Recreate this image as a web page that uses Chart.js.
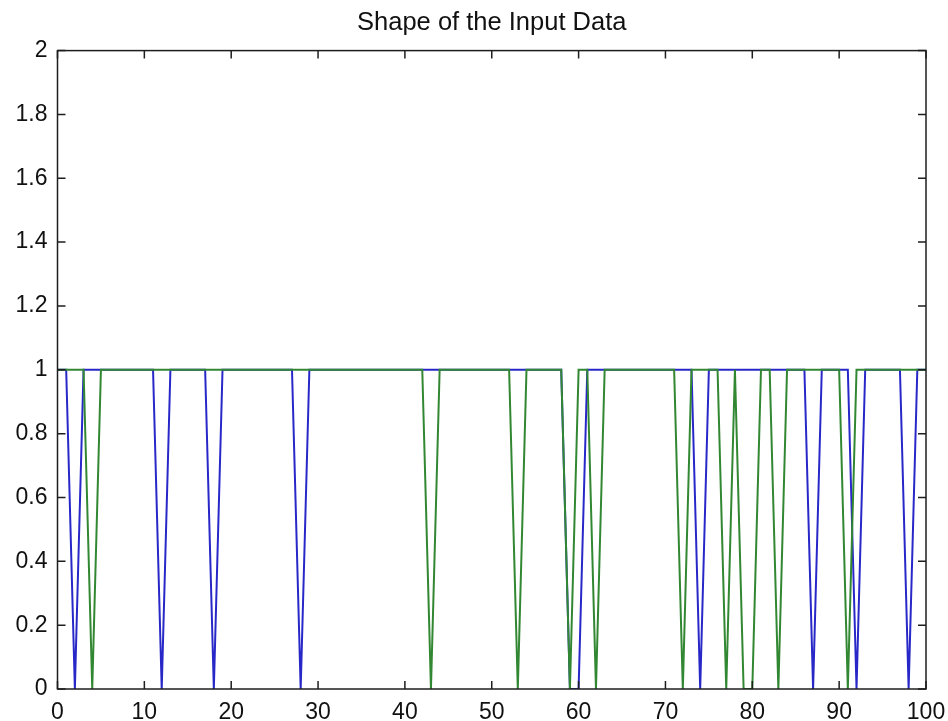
<!DOCTYPE html>
<html>
<head>
<meta charset="utf-8">
<title>Shape of the Input Data</title>
<script src="https://cdn.jsdelivr.net/npm/chart.js@4.4.0/dist/chart.umd.min.js"></script>
<style>
  html, body { margin: 0; padding: 0; background: #fff; }
  #wrap { width: 948px; height: 721px; }
</style>
</head>
<body>
<div id="wrap"><canvas id="myChart"></canvas></div>
<script>
// sample index 0..100
const xValues = [
  0, 1, 2, 3, 4, 5, 6, 7, 8, 9,
  10, 11, 12, 13, 14, 15, 16, 17, 18, 19,
  20, 21, 22, 23, 24, 25, 26, 27, 28, 29,
  30, 31, 32, 33, 34, 35, 36, 37, 38, 39,
  40, 41, 42, 43, 44, 45, 46, 47, 48, 49,
  50, 51, 52, 53, 54, 55, 56, 57, 58, 59,
  60, 61, 62, 63, 64, 65, 66, 67, 68, 69,
  70, 71, 72, 73, 74, 75, 76, 77, 78, 79,
  80, 81, 82, 83, 84, 85, 86, 87, 88, 89,
  90, 91, 92, 93, 94, 95, 96, 97, 98, 99,
  100
];

// blue line
const blueValues = [
  1, 1, 0, 1, 1, 1, 1, 1, 1, 1,
  1, 1, 0, 1, 1, 1, 1, 1, 0, 1,
  1, 1, 1, 1, 1, 1, 1, 1, 0, 1,
  1, 1, 1, 1, 1, 1, 1, 1, 1, 1,
  1, 1, 1, 1, 1, 1, 1, 1, 1, 1,
  1, 1, 1, 1, 1, 1, 1, 1, 1, 0,
  0, 1, 1, 1, 1, 1, 1, 1, 1, 1,
  1, 1, 1, 1, 0, 1, 1, 1, 1, 1,
  1, 1, 1, 1, 1, 1, 1, 0, 1, 1,
  1, 1, 0, 1, 1, 1, 1, 1, 0, 1,
  1
];

// green line
const greenValues = [
  1, 1, 1, 1, 0, 1, 1, 1, 1, 1,
  1, 1, 1, 1, 1, 1, 1, 1, 1, 1,
  1, 1, 1, 1, 1, 1, 1, 1, 1, 1,
  1, 1, 1, 1, 1, 1, 1, 1, 1, 1,
  1, 1, 1, 0, 1, 1, 1, 1, 1, 1,
  1, 1, 1, 0, 1, 1, 1, 1, 1, 0,
  1, 1, 0, 1, 1, 1, 1, 1, 1, 1,
  1, 1, 0, 1, 1, 1, 1, 0, 1, 0,
  0, 1, 1, 0, 1, 1, 1, 1, 1, 1,
  1, 0, 1, 1, 1, 1, 1, 1, 1, 1,
  1
];

const xTicks = [0, 10, 20, 30, 40, 50, 60, 70, 80, 90, 100];
const yTicks = [0, 0.2, 0.4, 0.6, 0.8, 1, 1.2, 1.4, 1.6, 1.8, 2];
const yTickLabels = ['0', '0.2', '0.4', '0.6', '0.8', '1', '1.2', '1.4', '1.6', '1.8', '2'];

const FONT = "'Liberation Sans', Arial, Helvetica, sans-serif";
const AXIS_COLOR = '#1e1e1e';

// matlab style box with inward ticks on all 4 sides
const matlabBox = {
  id: 'matlabBox',
  afterDraw(chart) {
    const ctx = chart.ctx;
    const a = chart.chartArea;
    const xs = chart.scales.x;
    const ys = chart.scales.y;
    const len = 8;
    ctx.save();
    ctx.strokeStyle = AXIS_COLOR;
    ctx.lineWidth = 1.5;
    ctx.strokeRect(a.left, a.top, a.right - a.left, a.bottom - a.top);
    ctx.beginPath();
    for (const v of xTicks) {
      const px = xs.getPixelForValue(v);
      ctx.moveTo(px, a.bottom); ctx.lineTo(px, a.bottom - len);
      ctx.moveTo(px, a.top); ctx.lineTo(px, a.top + len);
    }
    for (const v of yTicks) {
      const py = ys.getPixelForValue(v);
      ctx.moveTo(a.left, py); ctx.lineTo(a.left + len, py);
      ctx.moveTo(a.right, py); ctx.lineTo(a.right - len, py);
    }
    ctx.stroke();
    ctx.restore();
  }
};

const data = {
  labels: xValues,
  datasets: [
    {
      label: 'Series 1',
      data: blueValues,
      borderColor: 'rgb(40, 40, 200)',
      backgroundColor: 'rgb(40, 40, 200)',
      borderWidth: 2,
      pointRadius: 0,
      tension: 0,
      order: 1
    },
    {
      label: 'Series 2',
      data: greenValues,
      borderColor: 'rgb(50, 135, 50)',
      backgroundColor: 'rgb(50, 135, 50)',
      borderWidth: 2,
      pointRadius: 0,
      tension: 0,
      order: 0
    }
  ]
};

const config = {
  type: 'line',
  data: data,
  options: {
    responsive: true,
    maintainAspectRatio: false,
    animation: false,
    layout: { padding: { top: 0, left: 0, right: 22, bottom: 0 } },
    plugins: {
      legend: { display: false },
      tooltip: { enabled: false },
      title: {
        display: true,
        text: 'Shape of the Input Data',
        fullSize: false,
        color: '#111',
        font: { family: FONT, size: 25.5, weight: 'normal' },
        padding: { top: 8, bottom: 12 }
      }
    },
    scales: {
      x: {
        type: 'linear',
        min: 0,
        max: 100,
        grid: { display: false, drawTicks: false },
        border: { display: false },
        ticks: {
          color: '#111',
          font: { family: FONT, size: 23 },
          padding: 10,
          maxRotation: 0,
          autoSkip: false
        },
        afterBuildTicks: s => { s.ticks = xTicks.map(v => ({ value: v })); },
        afterFit: s => { s.height = 32; s.paddingLeft = 0; s.paddingRight = 0; }
      },
      y: {
        type: 'linear',
        min: 0,
        max: 2,
        grid: { display: false, drawTicks: false },
        border: { display: false },
        ticks: {
          color: '#111',
          font: { family: FONT, size: 23 },
          padding: 10,
          autoSkip: false,
          callback: (value, index) => yTickLabels[index]
        },
        afterBuildTicks: s => { s.ticks = yTicks.map(v => ({ value: v })); },
        afterFit: s => { s.width = 57.5; s.paddingTop = 0; s.paddingBottom = 0; }
      }
    }
  },
  plugins: [matlabBox]
};

const myChart = new Chart(document.getElementById('myChart'), config);
</script>
</body>
</html>
